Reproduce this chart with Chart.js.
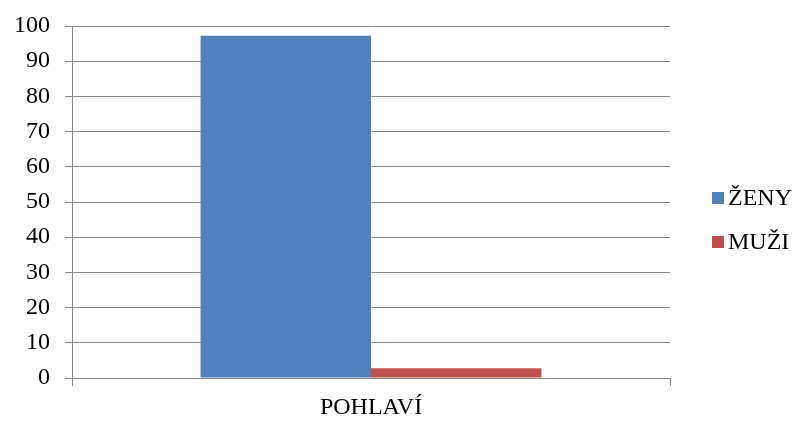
<!DOCTYPE html>
<html>
<head>
<meta charset="utf-8">
<script src="https://cdn.jsdelivr.net/npm/chart.js@4"></script>
</head>
<body style="margin:0;background:#fff">
<div style="width:803px;height:421px"><canvas id="c"></canvas></div>
<script>
// Kategorie a hodnoty (%)
const categories = ['POHLAVÍ'];
const zenyValues = [97.2];
const muziValues = [2.8];
const seriesNames = ['ŽENY', 'MUŽI'];
const seriesColors = ['#4F81BD', '#C0504D'];

const serifFamily = '"Liberation Serif", serif';
const textSize = 24;
const gridColor = '#878787';

// Legenda vpravo, kreslená z datových sad grafu
const sideLegend = {
  id: 'sideLegend',
  afterDraw(chart) {
    const ctx = chart.ctx;
    const x0 = 712;
    const rows = [198, 242];
    ctx.save();
    ctx.font = textSize + 'px ' + serifFamily;
    ctx.textBaseline = 'middle';
    ctx.textAlign = 'left';
    chart.data.datasets.forEach((ds, i) => {
      const y = rows[i];
      ctx.fillStyle = ds.backgroundColor;
      ctx.fillRect(x0, y - 6, 12, 12);
      ctx.fillStyle = '#000';
      ctx.fillText(ds.label, x0 + 16, y + 1);
    });
    ctx.restore();
  }
};

new Chart(document.getElementById('c'), {
  type: 'bar',
  data: {
    labels: categories,
    datasets: [
      { label: seriesNames[0], data: zenyValues, backgroundColor: seriesColors[0] },
      { label: seriesNames[1], data: muziValues, backgroundColor: seriesColors[1] }
    ]
  },
  options: {
    responsive: true,
    maintainAspectRatio: false,
    animation: false,
    layout: { padding: { top: 26, right: 133, left: 0, bottom: 0 } },
    datasets: { bar: { categoryPercentage: 0.57, barPercentage: 1.0 } },
    plugins: { legend: { display: false }, tooltip: { enabled: false } },
    scales: {
      x: {
        grid: { offset: true, drawOnChartArea: false, color: gridColor, tickLength: 8 },
        border: { color: gridColor, width: 1 },
        ticks: { color: '#000', font: { family: serifFamily, size: textSize }, padding: 7 },
        afterFit(scale) { scale.height = 43; }
      },
      y: {
        min: 0, max: 100,
        grid: { color: gridColor, tickLength: 7 },
        border: { color: gridColor, width: 1 },
        ticks: { stepSize: 10, color: '#000', font: { family: serifFamily, size: textSize }, padding: 15 },
        afterFit(scale) {
          scale.width = 72;
          // popisek „100“ nemá posouvat horní okraj plochy grafu
          scale.paddingTop = 0;
          scale.paddingBottom = 0;
        }
      }
    }
  },
  plugins: [sideLegend]
});
</script>
</body>
</html>
